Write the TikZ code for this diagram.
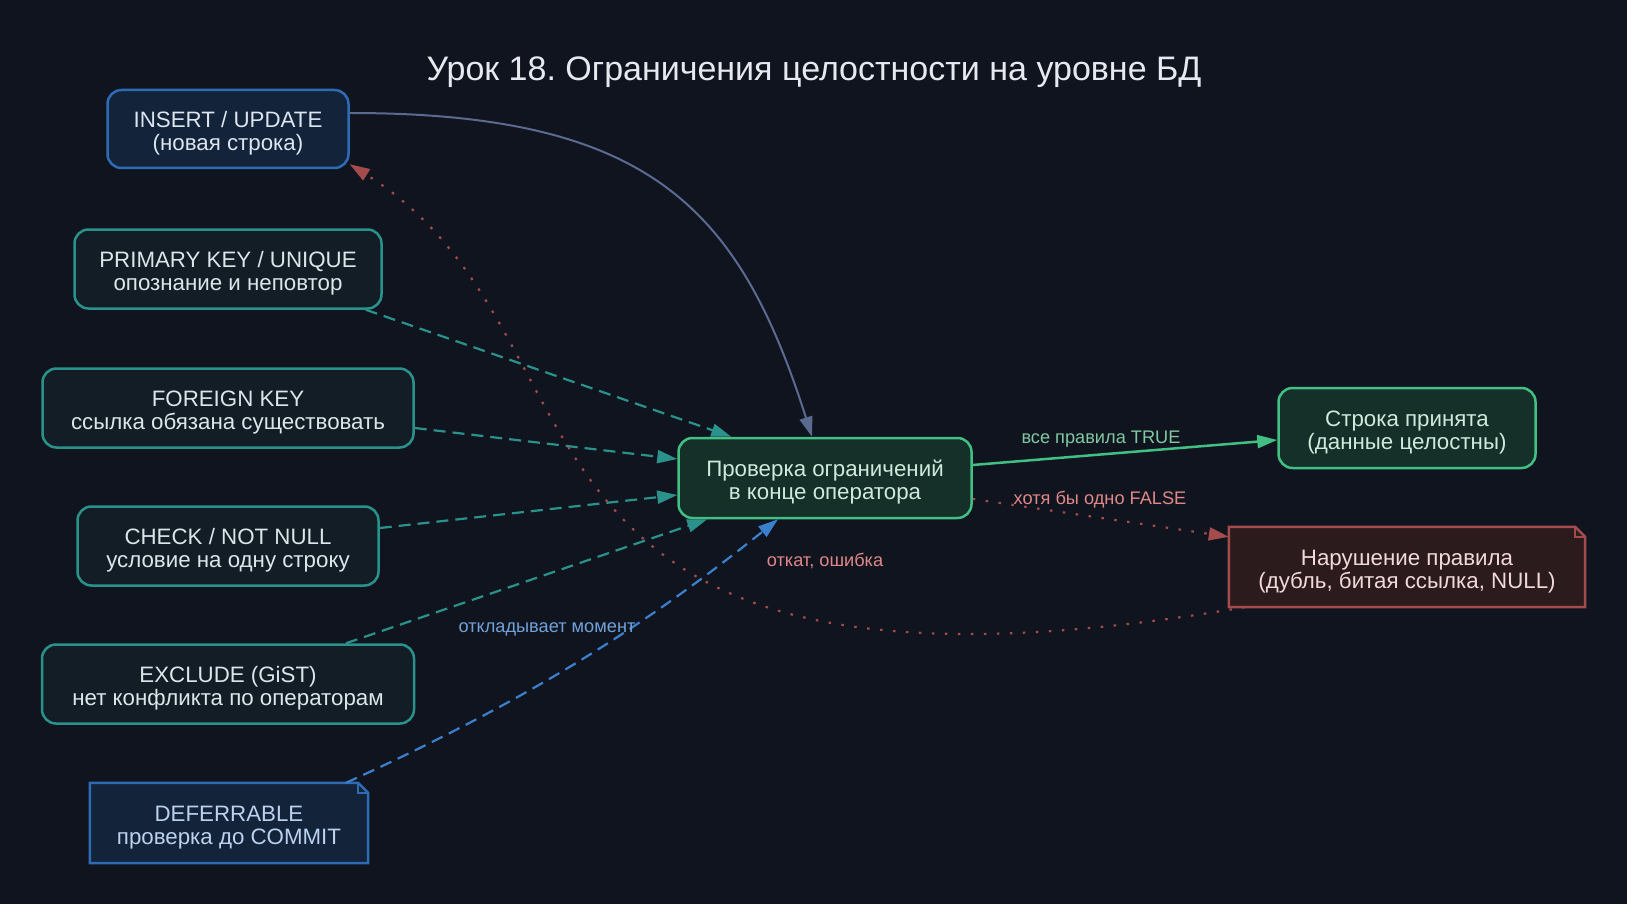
\documentclass[tikz,border=0pt]{standalone}
\usepackage{fontspec}
\setmainfont{Liberation Sans}
\usetikzlibrary{positioning,arrows.meta}
\frenchspacing
\definecolor{BgNight}{HTML}{10141F}
\definecolor{TitleInk}{HTML}{E6E9EF}
\definecolor{InsBlue}{HTML}{2E6BB3}
\definecolor{InsFill}{HTML}{13233A}
\definecolor{InsInk}{HTML}{DCE5F0}
\definecolor{RuleTeal}{HTML}{2A928A}
\definecolor{RuleFill}{HTML}{131D25}
\definecolor{RuleInk}{HTML}{DCE6EA}
\definecolor{CheckGreen}{HTML}{42C083}
\definecolor{CheckFill}{HTML}{152F29}
\definecolor{CheckInk}{HTML}{CFEADC}
\definecolor{BadRed}{HTML}{A44C4C}
\definecolor{BadFill}{HTML}{2B1B1D}
\definecolor{BadInk}{HTML}{F2D9D9}
\definecolor{DefInk}{HTML}{BBD1EE}
\definecolor{DefBlue}{HTML}{3B80CC}
\definecolor{SlateLine}{HTML}{5B6A91}
\definecolor{OkLabel}{HTML}{80C8A2}
\definecolor{BadLabel}{HTML}{E08888}
\definecolor{DefLabel}{HTML}{70A2DA}
\tikzset{
  boxtext/.style={inner sep=0pt,align=center,font=\fontsize{22.3}{23.5}\selectfont,
    execute at begin node={\rule{0pt}{48pt}}},
  insnode/.style={boxtext,draw=InsBlue,fill=InsFill,rounded corners=14pt,line width=2.5pt,
    minimum height=78pt,text=InsInk},
  rulenode/.style={boxtext,draw=RuleTeal,fill=RuleFill,rounded corners=14pt,line width=2.5pt,
    minimum height=79pt,text=RuleInk},
  checknode/.style={boxtext,draw=CheckGreen,fill=CheckFill,rounded corners=14pt,line width=2.5pt,
    minimum height=80pt,text=CheckInk},
  notenode/.style={boxtext,fill=#1,minimum height=80pt},
  noteline/.style={draw=#1,line width=2.5pt,line join=miter},
  titletext/.style={font=\fontsize{34}{40}\selectfont,text=TitleInk,inner sep=0pt},
  lbltext/.style={font=\fontsize{18.2}{22}\selectfont,inner sep=0pt},
  edgeIn/.style={line width=2pt,draw=SlateLine,-{Triangle[length=20pt,width=13pt]}},
  edgeRule/.style={line width=2.2pt,draw=RuleTeal,dash pattern=on 12pt off 7pt,
    -{Triangle[length=20pt,width=13pt]}},
  edgeDef/.style={line width=2.2pt,draw=DefBlue,dash pattern=on 12pt off 7pt,
    -{Triangle[length=20pt,width=13pt]}},
  edgeOk/.style={line width=2.5pt,draw=CheckGreen,-{Triangle[length=20pt,width=13pt]}},
  edgeBad/.style={line width=2.2pt,draw=BadRed,dash pattern=on 2.5pt off 10.5pt,
    -{Triangle[length=20pt,width=13pt]}},
}
\begin{document}
\begin{tikzpicture}[x=1pt,y=-1pt]
  \fill[BgNight] (0,0) rectangle (1627,904);
  \useasboundingbox (0,0) rectangle (1627,904);
  \node[titletext] (title) at (814,72) {Урок 18. Ограничения целостности на уровне БД};

  \node[insnode,minimum width=241pt] (ins) at (228,129) {INSERT / UPDATE\\(новая строка)};
  \node[rulenode,minimum width=307pt] (pk) at (228,269) {PRIMARY KEY / UNIQUE\\опознание и неповтор};
  \node[rulenode,minimum width=371pt] (fk) at (228,408) {FOREIGN KEY\\ссылка обязана существовать};
  \node[rulenode,minimum width=301pt] (ck) at (228,546) {CHECK / NOT NULL\\условие на одну строку};
  \node[rulenode,minimum width=372pt] (ex) at (228,684) {EXCLUDE (GiST)\\нет конфликта по операторам};
  \node[notenode=InsFill,text=DefInk,minimum width=278pt] (df) at (229,823) {DEFERRABLE\\проверка до COMMIT};
  \node[checknode,minimum width=293pt] (chk) at (825,478) {Проверка ограничений\\в конце оператора};
  \node[checknode,minimum width=257pt] (ok) at (1407,428) {Строка принята\\(данные целостны)};
  \node[notenode=BadFill,text=BadInk,minimum width=356pt] (bad) at (1407,567) {Нарушение правила\\(дубль, битая ссылка, NULL)};

  \fill[BgNight] ([xshift=-10pt]df.north east) -- (df.north east) -- ([yshift=-10pt]df.north east) -- cycle;
  \draw[noteline=InsBlue] (df.north west) -- ([xshift=-10pt]df.north east) -- ([yshift=-10pt]df.north east)
    -- (df.south east) -- (df.south west) -- cycle;
  \draw[InsBlue,line width=1.5pt] ([xshift=-10pt]df.north east) |- ([yshift=-10pt]df.north east);
  \fill[BgNight] ([xshift=-10pt]bad.north east) -- (bad.north east) -- ([yshift=-10pt]bad.north east) -- cycle;
  \draw[noteline=BadRed] (bad.north west) -- ([xshift=-10pt]bad.north east) -- ([yshift=-10pt]bad.north east)
    -- (bad.south east) -- (bad.south west) -- cycle;
  \draw[BadRed,line width=1.5pt] ([xshift=-10pt]bad.north east) |- ([yshift=-10pt]bad.north east);

  \draw[edgeIn] ([yshift=16pt]ins.east) .. controls (649,113) and (739,207) .. ([xshift=-13pt]chk.north);
  \draw[edgeRule] ([xshift=-17pt]pk.south east) -- ([xshift=54pt]chk.north west);
  \draw[edgeRule] ([yshift=-20pt]fk.east) -- ([yshift=19pt]chk.west);
  \draw[edgeRule] ([yshift=18pt]ck.east) -- ([yshift=-17pt]chk.west);
  \draw[edgeRule] ([xshift=118pt]ex.north) -- ([xshift=30pt]chk.south west);
  \draw[edgeDef] ([xshift=117pt]df.north) .. controls (546,692) and (658,615) .. ([xshift=-47pt]chk.south);
  \draw[edgeOk] ([yshift=13pt]chk.east) -- ([yshift=-12pt]ok.west);
  \draw[edgeBad] ([yshift=-21pt]chk.east) -- ([yshift=-10pt]bad.north west);
  \draw[edgeBad] ([xshift=16pt]bad.south west) .. controls (456,741) and (629,339) .. ([yshift=5pt]ins.south east);

  \node[lbltext,text=OkLabel] (lok) at (1101,439) {все правила TRUE};
  \node[lbltext,text=BadLabel] (lbad) at (1100,500) {хотя бы одно FALSE};
  \node[lbltext,text=BadLabel] (lback) at (825,561) {откат, ошибка};
  \node[lbltext,text=DefLabel] (ldef) at (547,629) {откладывает момент};
\end{tikzpicture}
\end{document}
